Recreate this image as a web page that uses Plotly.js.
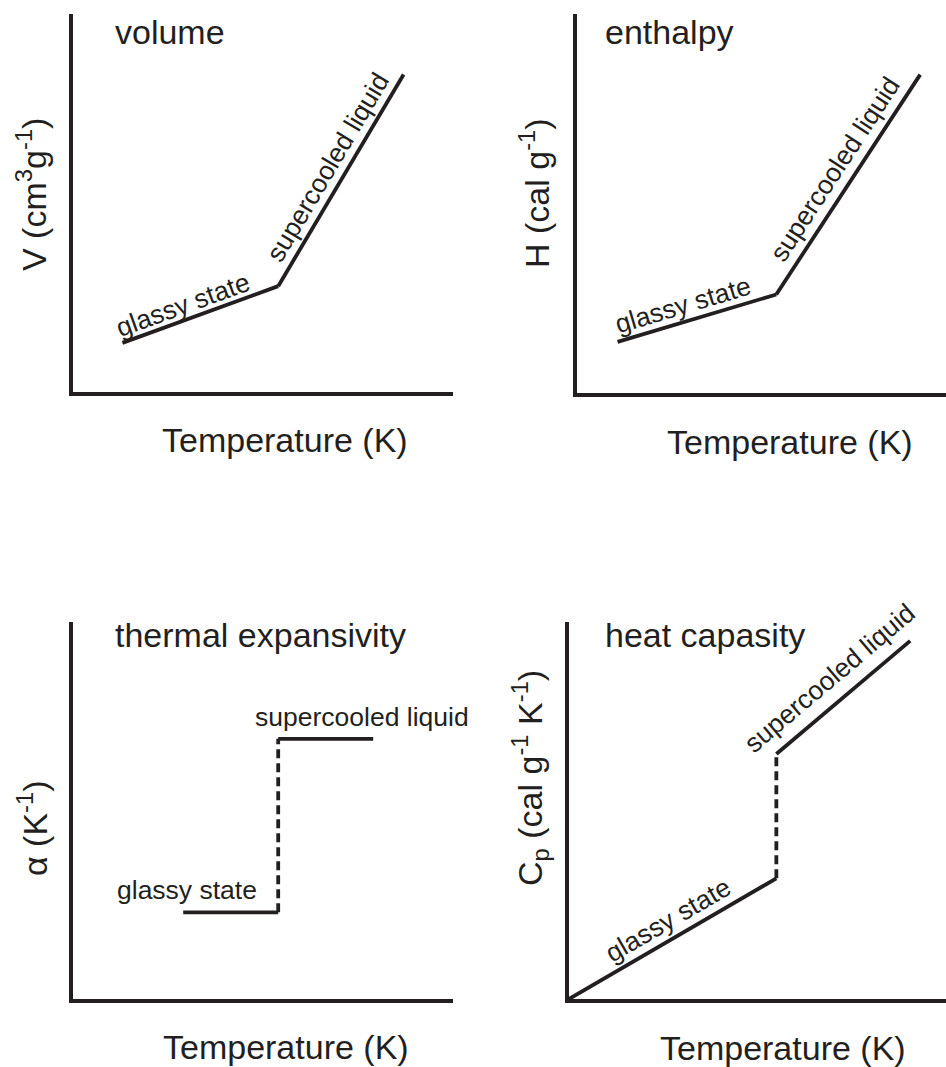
<!DOCTYPE html>
<html>
<head>
<meta charset="utf-8">
<script src="https://cdn.plot.ly/plotly-3.0.1.min.js"></script>
<style>
  html, body { margin: 0; padding: 0; background: #ffffff; }
  #chart { width: 946px; height: 1067px; }
</style>
</head>
<body>
<div id="chart"></div>
<script>
// Schematic property curves across the glass transition (arbitrary units, 0-100 on each axis)

// Volume
const volT_glass = [13, 54];
const vol_glass = [13, 28];
const volT_liquid = [54, 87];
const vol_liquid = [28, 84];

// Enthalpy
const enthT_glass = [11, 54];
const enth_glass = [13.5, 26];
const enthT_liquid = [54, 93];
const enth_liquid = [26, 84];

// Thermal expansivity
const alphaT_glass = [29, 54];
const alpha_glass = [23, 23];
const alphaT_jump = [54, 54];
const alpha_jump = [23, 69];
const alphaT_liquid = [54, 79];
const alpha_liquid = [69, 69];

// Heat capacity
const cpT_glass = [0, 55];
const cp_glass = [0, 32];
const cpT_jump = [55, 55];
const cp_jump = [32, 65];
const cpT_liquid = [55, 90.5];
const cp_liquid = [65, 95];

const stateLabels = ["glassy state", "supercooled liquid"];
const panelTitles = ["volume", "enthalpy", "thermal expansivity", "heat capasity"];
const yTitles = [
  "V (cm<sup>3</sup>g<sup>-1</sup>)",
  "H (cal g<sup>-1</sup>)",
  "\u03b1 (K<sup>-1</sup>)",
  "C<sub>p</sub> (cal g<sup>-1</sup> K<sup>-1</sup>)"
];
const xTitle = "Temperature (K)";

// ---- layout geometry (pixels) ----
const W = 946, H = 1067;
const INK = "#231f20";
const FONT = "Liberation Sans, Arial, Helvetica, sans-serif";
const BIG = 34, SMALL = 26.5;
const boxes = [
  {l: 73, r: 453, t: 14, b: 392},
  {l: 577, r: 946, t: 14, b: 393},
  {l: 73, r: 453, t: 622, b: 999},
  {l: 569, r: 946, t: 622, b: 999}
];
const RANGE = [0, 100];

function px2paperX(p) { return p / W; }
function px2paperY(p) { return 1 - p / H; }

// angle of a segment on screen, given its data endpoints
function segAngle(box, xs, ys) {
  const sx = (box.r - box.l) / (RANGE[1] - RANGE[0]);
  const sy = (box.b - box.t) / (RANGE[1] - RANGE[0]);
  const dx = (xs[1] - xs[0]) * sx;
  const dy = (ys[1] - ys[0]) * sy;
  return -Math.atan2(dy, dx) * 180 / Math.PI;
}

const axisNames = [["x", "y"], ["x2", "y2"], ["x3", "y3"], ["x4", "y4"]];

function seg(i, xs, ys, dash) {
  return {
    type: "scatter", mode: "lines",
    x: xs, y: ys,
    xaxis: axisNames[i][0], yaxis: axisNames[i][1],
    line: {color: INK, width: 3.8, dash: dash || "solid"},
    cliponaxis: false, hoverinfo: "skip", showlegend: false
  };
}

const traces = [
  seg(0, volT_glass, vol_glass),
  seg(0, volT_liquid, vol_liquid),
  seg(1, enthT_glass, enth_glass),
  seg(1, enthT_liquid, enth_liquid),
  seg(2, alphaT_glass, alpha_glass),
  seg(2, alphaT_jump, alpha_jump, "9px,5px"),
  seg(2, alphaT_liquid, alpha_liquid),
  seg(3, cpT_glass, cp_glass),
  seg(3, cpT_jump, cp_jump, "9px,5px"),
  seg(3, cpT_liquid, cp_liquid)
];

const layout = {
  width: W, height: H,
  margin: {l: 0, r: 0, t: 0, b: 0},
  paper_bgcolor: "#ffffff", plot_bgcolor: "rgba(0,0,0,0)",
  showlegend: false,
  font: {family: FONT, color: INK},
  annotations: []
};

function axisBase(domain, anchor) {
  return {
    domain: domain, range: RANGE, anchor: anchor,
    showline: true, linecolor: INK, linewidth: 4,
    showgrid: false, zeroline: false, showticklabels: false,
    ticks: "", fixedrange: true
  };
}

boxes.forEach((b, i) => {
  const xn = i === 0 ? "xaxis" : "xaxis" + (i + 1);
  const yn = i === 0 ? "yaxis" : "yaxis" + (i + 1);
  layout[xn] = axisBase([px2paperX(b.l), px2paperX(b.r)], axisNames[i][1]);
  layout[yn] = axisBase([px2paperY(b.b), px2paperY(b.t)], axisNames[i][0]);
});

// panel titles, axis titles (paper coordinates from pixel positions)
const titlePos = [
  {x: 113, y: 32}, {x: 603, y: 32}, {x: 113, y: 635}, {x: 603, y: 635}
];
const yTitlePos = [
  {x: 32, y: 195}, {x: 535, y: 193}, {x: 32, y: 828}, {x: 530, y: 778}
];
const xTitlePos = [
  {x: 285, y: 440}, {x: 790, y: 442}, {x: 286, y: 1047}, {x: 783, y: 1048}
];

for (let i = 0; i < 4; i++) {
  layout.annotations.push({
    xref: "paper", yref: "paper",
    x: px2paperX(titlePos[i].x), y: px2paperY(titlePos[i].y),
    xanchor: "left", yanchor: "middle", showarrow: false,
    text: panelTitles[i], font: {size: BIG, family: FONT, color: INK}
  });
  layout.annotations.push({
    xref: "paper", yref: "paper",
    x: px2paperX(yTitlePos[i].x), y: px2paperY(yTitlePos[i].y),
    xanchor: "center", yanchor: "middle", showarrow: false, textangle: -90,
    text: yTitles[i], font: {size: BIG, family: FONT, color: INK}
  });
  layout.annotations.push({
    xref: "paper", yref: "paper",
    x: px2paperX(xTitlePos[i].x), y: px2paperY(xTitlePos[i].y),
    xanchor: "center", yanchor: "middle", showarrow: false,
    text: xTitle, font: {size: BIG, family: FONT, color: INK}
  });
}

// state labels written along their segments
function stateLabel(i, text, x, y, angle, anchor) {
  layout.annotations.push({
    xref: axisNames[i][0], yref: axisNames[i][1],
    x: x, y: y, showarrow: false,
    xanchor: anchor || "center", yanchor: "middle",
    textangle: angle, text: text,
    font: {size: SMALL, family: FONT, color: INK}
  });
}

stateLabel(0, stateLabels[0], 28.9, 23.0, segAngle(boxes[0], volT_glass, vol_glass));
stateLabel(0, stateLabels[1], 67.1, 59.5, segAngle(boxes[0], volT_liquid, vol_liquid));
stateLabel(1, stateLabels[0], 28.7, 23.2, segAngle(boxes[1], enthT_glass, enth_glass));
stateLabel(1, stateLabels[1], 69.9, 59.1, segAngle(boxes[1], enthT_liquid, enth_liquid));
stateLabel(2, stateLabels[0], 11.0, 28.9, 0, "left");
stateLabel(2, stateLabels[1], 47.4, 74.8, 0, "left");
stateLabel(3, stateLabels[0], 26.3, 21.0, segAngle(boxes[3], cpT_glass, cp_glass));
stateLabel(3, stateLabels[1], 69.2, 85.1, segAngle(boxes[3], cpT_liquid, cp_liquid));

Plotly.newPlot("chart", traces, layout, {staticPlot: true, displayModeBar: false});
</script>
</body>
</html>
